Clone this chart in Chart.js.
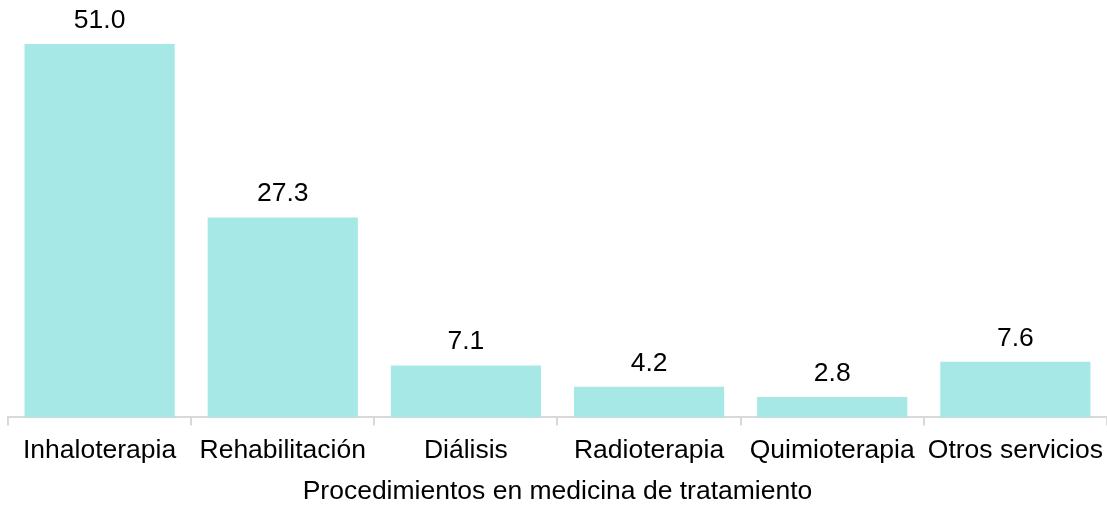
<!DOCTYPE html>
<html>
<head>
<meta charset="utf-8">
<script src="https://cdn.jsdelivr.net/npm/chart.js@4/dist/chart.umd.min.js"></script>
<style>
  html, body { margin: 0; padding: 0; background: #fff; overflow: hidden; }
  #wrap { width: 1112px; height: 508px; }
</style>
</head>
<body>
<div id="wrap"><canvas id="myChart"></canvas></div>
<script>
// data
const categories = ['Inhaloterapia', 'Rehabilitación', 'Diálisis', 'Radioterapia', 'Quimioterapia', 'Otros servicios'];
const values = [51.0, 27.3, 7.1, 4.2, 2.8, 7.6];
const axisTitle = 'Procedimientos en medicina de tratamiento';

const FONT = "'Liberation Sans', Arial, sans-serif";
const FONT_SIZE = 26.5;

// value labels above bars
const valueLabels = {
  id: 'valueLabels',
  afterDatasetsDraw(chart) {
    const c = chart.ctx;
    const meta = chart.getDatasetMeta(0);
    c.save();
    c.font = FONT_SIZE + 'px ' + FONT;
    c.fillStyle = '#000';
    c.textAlign = 'center';
    c.textBaseline = 'alphabetic';
    meta.data.forEach(function (bar, i) {
      c.fillText(values[i].toFixed(1), bar.x, bar.y - 16);
    });
    c.restore();
  }
};

const ctx = document.getElementById('myChart');
const myChart = new Chart(ctx, {
  type: 'bar',
  data: {
    labels: categories,
    datasets: [{
      data: values,
      backgroundColor: '#a5e8e6',
      barPercentage: 0.82,
      categoryPercentage: 1.0,
    }]
  },
  options: {
    responsive: true,
    maintainAspectRatio: false,
    animation: false,
    layout: {
      padding: { left: 8, right: 0, top: 0, bottom: 0 }
    },
    scales: {
      y: {
        display: false,
        min: 0,
        max: 57,
      },
      x: {
        grid: {
          drawOnChartArea: false,
          color: '#d9d9d9',
          tickLength: 8,
          lineWidth: 2,
        },
        border: { color: '#d9d9d9', width: 2 },
        ticks: {
          color: '#000',
          font: { family: FONT, size: FONT_SIZE },
          padding: 9,
          maxRotation: 0,
          autoSkip: false,
        },
        title: {
          display: true,
          text: axisTitle,
          color: '#000',
          font: { family: FONT, size: FONT_SIZE },
          padding: { top: 1, bottom: 0 },
        }
      }
    },
    plugins: {
      legend: { display: false },
      tooltip: { enabled: false }
    }
  },
  plugins: [valueLabels]
});
</script>
</body>
</html>
